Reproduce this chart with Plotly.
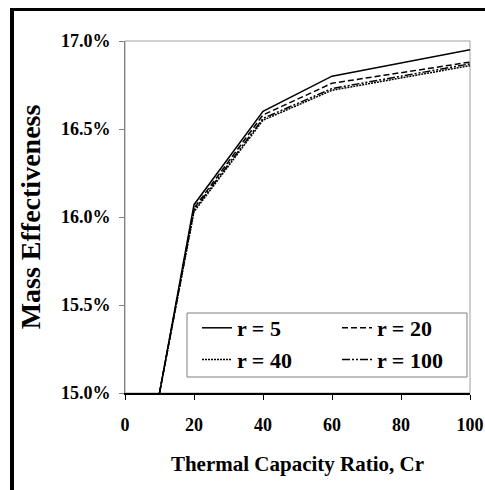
import plotly.graph_objects as go

cr = [10, 20, 40, 60, 100]
series_names = ["r = 5", "r = 20", "r = 40", "r = 100"]
r5 = [0.1500, 0.1607, 0.1660, 0.1680, 0.1695]
r20 = [0.1500, 0.1605, 0.1658, 0.1676, 0.1688]
r40 = [0.1500, 0.1603, 0.1655, 0.1672, 0.1686]
r100 = [0.1500, 0.1604, 0.1656, 0.1673, 0.1687]
y_ticks = [0.150, 0.155, 0.160, 0.165, 0.170]
x_ticks = [0, 20, 40, 60, 80, 100]

series_vals = [r5, r20, r40, r100]
dashes = ["solid", "6px,3px", "2px,1px", "8px,2px,2px,2px,2px,2px"]
legend_ids = ["legend", "legend2", "legend", "legend2"]

FONT = "Liberation Serif"

fig = go.Figure()
for name, vals, d, lg in zip(series_names, series_vals, dashes, legend_ids):
    fig.add_trace(go.Scatter(x=cr, y=vals, mode="lines", name=name, legend=lg,
                             line=dict(color="black", width=1.5, dash=d),
                             cliponaxis=True))

# body margin is removed by post_script, so figure pixels == window pixels
OFF = 0
W, H = 485, 490
L, R, T, B = 125, 485 - 470, 41, 490 - 393
pw, ph = W - L - R, H - T - B

def px_x(x):
    return (x - OFF - L) / pw

def px_y(y):
    return (H - B - (y - OFF)) / ph

shapes = [
    dict(type="rect", xref="paper", yref="paper", x0=0, x1=1, y0=0, y1=1,
         line=dict(color="#a0a0a0", width=1), layer="below"),
    dict(type="rect", xref="paper", yref="paper", x0=px_x(187), x1=px_x(467),
         y0=px_y(377), y1=px_y(313), line=dict(color="#808080", width=1),
         fillcolor="white", layer="above"),
    dict(type="line", xref="paper", yref="paper", x0=px_x(12), x1=px_x(12),
         y0=px_y(8), y1=px_y(495), line=dict(color="black", width=4)),
    dict(type="line", xref="paper", yref="paper", x0=px_x(10), x1=px_x(490),
         y0=px_y(9.5), y1=px_y(9.5), line=dict(color="black", width=3)),
]

legend_common = dict(orientation="v", xanchor="left", yanchor="top",
                     borderwidth=0, bgcolor="rgba(0,0,0,0)",
                     font=dict(family=FONT, size=22, color="black", weight="bold"),
                     itemwidth=30, tracegroupgap=0)

fig.update_layout(
    width=W, height=H,
    margin=dict(l=L, r=R, t=T, b=B),
    paper_bgcolor="white", plot_bgcolor="white",
    font=dict(family=FONT, color="black", size=18, weight="bold"),
    showlegend=True,
    legend=dict(x=px_x(197), y=px_y(307), **legend_common),
    legend2=dict(x=px_x(337), y=px_y(307), **legend_common),
    shapes=shapes,
    xaxis=dict(range=[0, 100], tickvals=x_ticks, ticks="outside", ticklen=5,
               tickcolor="black", showline=True, linecolor="black", linewidth=1.5,
               showgrid=False, zeroline=False, ticklabelstandoff=10, automargin=False,
               tickfont=dict(family=FONT, size=18, weight="bold"),
               title=dict(text="Thermal Capacity Ratio, Cr", standoff=22,
                          font=dict(family=FONT, size=21, weight="bold"))),
    yaxis=dict(range=[0.15, 0.17], tickvals=y_ticks, tickformat=".1%", ticks="outside",
               ticklen=5, tickcolor="#808080", showline=True, linecolor="#808080",
               linewidth=1, showgrid=False, zeroline=False, ticklabelstandoff=5,
               automargin=False,
               tickfont=dict(family=FONT, size=18, weight="bold"),
               title=dict(text="Mass Effectiveness", standoff=12,
                          font=dict(family=FONT, size=28, weight="bold"))),
)

fig.write_html("out.html", config={"displayModeBar": False},
               post_script="document.body.style.margin='0';document.body.style.overflow='hidden';")
